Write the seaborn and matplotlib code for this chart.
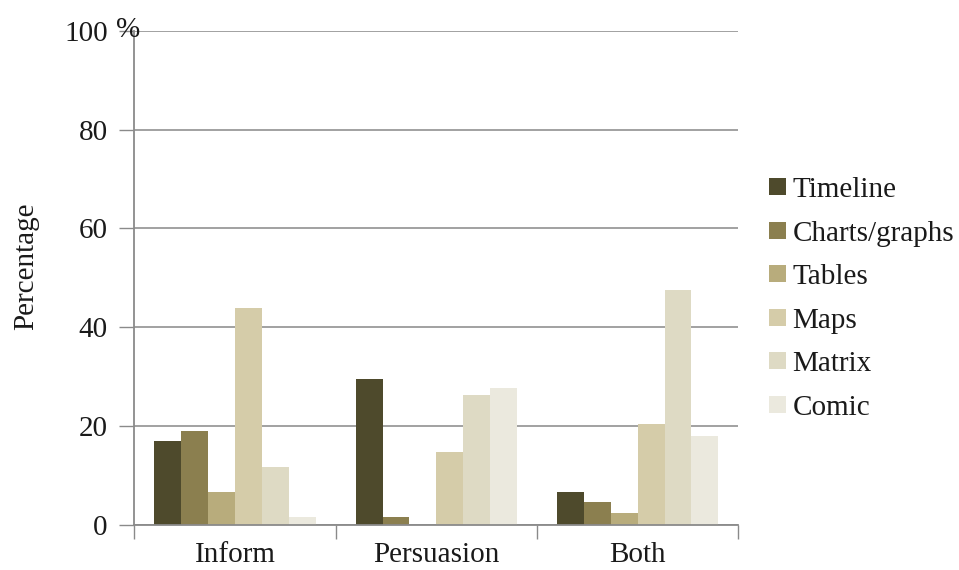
import matplotlib
matplotlib.use("Agg")
import matplotlib.pyplot as plt
import seaborn as sns
import pandas as pd
from matplotlib.patches import Patch
from matplotlib.transforms import offset_copy

# Purposes on the x axis and the visual types shown for each
purposes = ["Inform", "Persuasion", "Both"]
visual_types = ["Timeline", "Charts/graphs", "Tables", "Maps", "Matrix", "Comic"]

# Percentage of items per visual type, one list per purpose
inform = [17.0, 19.0, 6.7, 44.0, 11.7, 1.6]
persuasion = [29.6, 1.6, 0.0, 14.8, 26.2, 27.8]
both = [6.7, 4.7, 2.4, 20.4, 47.6, 18.1]

y_ticks = [0, 20, 40, 60, 80, 100]
y_tick_labels = ["0", "20", "40", "60", "80", "100"]

palette = ["#4e4a2c", "#8b7f4f", "#b8ac7c", "#d5cca9", "#dedac4", "#ebe9de"]

rows = []
for purpose, values in zip(purposes, [inform, persuasion, both]):
    for vtype, val in zip(visual_types, values):
        rows.append({"Purpose": purpose, "Type": vtype, "Percentage": val})
df = pd.DataFrame(rows)

sns.set_theme(style="white")
plt.rcParams["font.family"] = ["Liberation Serif", "DejaVu Serif"]
FS = 21

fig = plt.figure(figsize=(9.59, 5.70), dpi=100)
ax = fig.add_axes([0.140, 0.079, 0.630, 0.867])

sns.barplot(data=df, x="Purpose", y="Percentage", hue="Type",
            order=purposes, hue_order=visual_types, palette=palette,
            width=0.8, saturation=1, errorbar=None, legend=False,
            linewidth=0, ax=ax)

ax.set_ylim(0, 100)
ax.set_xlim(-0.5, 2.5)
ax.set_yticks(y_ticks)
ax.set_yticklabels(y_tick_labels)
ax.yaxis.grid(True, color="#9a9a9a", linewidth=1.3)
ax.set_axisbelow(True)

# unit sign placed beside the top tick label, over the axis line
ax.text(-0.5, 100, "%", fontsize=FS, ha="center", va="center",
        transform=offset_copy(ax.transData, fig=fig, x=-6, y=1, units="dots"),
        color="#1a1a1a")

# category separators as minor ticks below the axis
ax.set_xticks([-0.5, 0.5, 1.5, 2.5], minor=True)
ax.tick_params(axis="x", which="major", length=0, pad=12, labelsize=FS,
               labelcolor="#1a1a1a")
ax.tick_params(axis="x", which="minor", length=10, width=1.0, color="#8a8a8a",
               direction="out", bottom=True)
ax.tick_params(axis="y", which="major", length=11, width=1.0, color="#8a8a8a",
               direction="out", left=True, pad=8, labelsize=FS,
               labelcolor="#1a1a1a")

for side in ["top", "right"]:
    ax.spines[side].set_visible(False)
for side in ["left", "bottom"]:
    ax.spines[side].set_color("#8a8a8a")
    ax.spines[side].set_linewidth(1.3)

ax.set_xlabel("")
ax.set_ylabel("Percentage", fontsize=FS, color="#1a1a1a")
ax.yaxis.set_label_coords(-0.157, 0.524)

handles = [Patch(facecolor=c, edgecolor="none") for c in palette]
leg = ax.legend(handles, visual_types, loc="center left",
                bbox_to_anchor=(1.05, 0.4575), frameon=False, fontsize=FS,
                handlelength=0.58, handleheight=0.52, handletextpad=0.24,
                labelspacing=0.6, borderaxespad=0, borderpad=0)
for t in leg.get_texts():
    t.set_color("#1a1a1a")

fig.savefig("out.png", dpi=100)
